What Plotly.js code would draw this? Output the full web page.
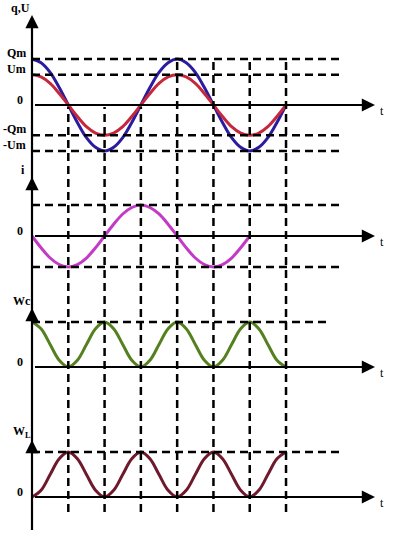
<!DOCTYPE html>
<html>
<head>
<meta charset="utf-8">
<script src="https://cdn.plot.ly/plotly-3.0.1.min.js"></script>
<style>html,body{margin:0;padding:0;background:#fff}#chart{width:396px;height:535px}</style>
</head>
<body>
<div id="chart"></div>
<script>
// time in quarter-periods (T/4 units)
const t7 = [0,0.25,0.5,0.75,1,1.25,1.5,1.75,2,2.25,2.5,2.75,3,3.25,3.5,3.75,4,4.25,4.5,4.75,5,5.25,5.5,5.75,6,6.25,6.5,6.75,7];
const t6 = [0,0.25,0.5,0.75,1,1.25,1.5,1.75,2,2.25,2.5,2.75,3,3.25,3.5,3.75,4,4.25,4.5,4.75,5,5.25,5.5,5.75,6];
// panel 1: charge q (blue) and voltage U (red)
const qVals = [1,0.92,0.71,0.38,0,-0.38,-0.71,-0.92,-1,-0.92,-0.71,-0.38,0,0.38,0.71,0.92,1,0.92,0.71,0.38,0,-0.38,-0.71,-0.92,-1,-0.92,-0.71,-0.38,0];
const uVals = [0.66,0.61,0.47,0.25,0,-0.25,-0.47,-0.61,-0.66,-0.61,-0.47,-0.25,0,0.25,0.47,0.61,0.66,0.61,0.47,0.25,0,-0.25,-0.47,-0.61,-0.66,-0.61,-0.47,-0.25,0];
// panel 2: current i
const iVals = [0,-0.38,-0.71,-0.92,-1,-0.92,-0.71,-0.38,0,0.38,0.71,0.92,1,0.92,0.71,0.38,0,-0.38,-0.71,-0.92,-1,-0.92,-0.71,-0.38,0];
// panel 3: electric energy Wc
const wcVals = [1,0.85,0.5,0.15,0,0.15,0.5,0.85,1,0.85,0.5,0.15,0,0.15,0.5,0.85,1,0.85,0.5,0.15,0,0.15,0.5,0.85,1,0.85,0.5,0.15,0];
// panel 4: magnetic energy WL
const wlVals = [0,0.15,0.5,0.85,1,0.85,0.5,0.15,0,0.15,0.5,0.85,1,0.85,0.5,0.15,0,0.15,0.5,0.85,1,0.85,0.5,0.15,0,0.15,0.5,0.85,1];

// level labels
const p1Levels = [1, 0.66, -0.66, -1];
const p1Labels = ["Qm", "Um", "-Qm", "-Um"];
const p2Levels = [1, -1];
const p3Levels = [1];
const p4Levels = [1];
const axisTitles = ["q,U", "i", "Wc", "W<sub>L</sub>"];
const vLines = [1,2,3,4,5,6,7];

const W = 396, H = 535;
const py = p => 1 - p / H;           // pixel -> paper y
const px = p => p / W;               // pixel -> paper x
const unit = 36.29, x0px = 32;
const ux = p => (p - x0px) / unit;   // pixel -> t units

function rng(zeroPx, amp) { return [(zeroPx - H) / amp, zeroPx / amp]; }

const lineW = 3;
const traces = [
  {x: t7, y: qVals, yaxis: 'y', mode: 'lines', line: {color: '#2b1b9e', width: lineW, shape: 'spline'}},
  {x: t7, y: uVals, yaxis: 'y', mode: 'lines', line: {color: '#c4283c', width: lineW, shape: 'spline'}},
  {x: t6, y: iVals, yaxis: 'y2', mode: 'lines', line: {color: '#c23ac6', width: lineW, shape: 'spline'}},
  {x: t7, y: wcVals, yaxis: 'y3', mode: 'lines', line: {color: '#55801f', width: lineW, shape: 'spline'}},
  {x: t7, y: wlVals, yaxis: 'y4', mode: 'lines', line: {color: '#6e1a2c', width: lineW, shape: 'spline'}}
];

const dash = {color: '#000', width: 2.5, dash: '8px,5px'};
const shapes = [];
const annotations = [];
const font = {family: 'Liberation Serif, Times New Roman, serif', size: 12, color: '#000'};

// vertical dashed lines
vLines.forEach(k => {
  shapes.push({type: 'line', xref: 'x', yref: 'paper', x0: k, x1: k,
    y0: py(512), y1: k <= 3 ? py(107) : py(58), line: dash});
});
// horizontal dashed lines
function hdash(levels, yref, endPx) {
  levels.forEach(v => shapes.push({type: 'line', xref: 'x', yref: yref, x0: 0, x1: ux(endPx), y0: v, y1: v, line: dash}));
}
hdash(p1Levels, 'y', 342);
hdash(p2Levels, 'y2', 342);
hdash(p3Levels, 'y3', 330);
hdash(p4Levels, 'y4', 342);

// vertical axis line
shapes.push({type: 'line', xref: 'x', yref: 'paper', x0: 0, x1: 0, y0: py(530), y1: py(20), line: {color: '#000', width: 2.2}});

// vertical arrowheads
[15, 177, 308, 440].forEach(tip => {
  annotations.push({xref: 'x', yref: 'paper', x: 0, y: py(tip), axref: 'pixel', ayref: 'pixel', ax: 0, ay: 14,
    showarrow: true, arrowhead: 2, arrowsize: 1.2, arrowwidth: 2.2, arrowcolor: '#000', text: ' '});
});
// horizontal time axes with arrows
['y', 'y2', 'y3', 'y4'].forEach(yr => {
  annotations.push({xref: 'x', yref: yr, x: ux(375), y: 0, axref: 'x', ayref: yr, ax: 0, ay: 0,
    showarrow: true, arrowhead: 2, arrowsize: 1.2, arrowwidth: 2.2, arrowcolor: '#000', text: ' '});
  annotations.push({xref: 'paper', yref: yr, x: px(378), y: 0, yshift: -6, xanchor: 'left', yanchor: 'middle',
    showarrow: false, text: 't', font: Object.assign({}, font, {size: 12})});
  annotations.push({xref: 'paper', yref: yr, x: px(25), y: 0, yshift: 5, xanchor: 'right', yanchor: 'middle',
    showarrow: false, text: '<b>0</b>', font: font});
});
// level labels panel 1
p1Levels.forEach((v, i) => {
  annotations.push({xref: 'paper', yref: 'y', x: px(28), y: v, yshift: 6, xanchor: 'right', yanchor: 'middle',
    showarrow: false, text: '<b>' + p1Labels[i] + '</b>', font: font});
});
// axis titles
const titlePos = [[9, 8], [19, 170], [11, 301], [11, 432]];
axisTitles.forEach((txt, i) => {
  annotations.push({xref: 'paper', yref: 'paper', x: px(titlePos[i][0]), y: py(titlePos[i][1]), xanchor: 'left', yanchor: 'middle',
    showarrow: false, text: '<b>' + txt + '</b>', font: font});
});

const hidden = {visible: false, fixedrange: true};
const layout = {
  width: W, height: H,
  margin: {l: 0, r: 0, t: 0, b: 0},
  paper_bgcolor: '#fff', plot_bgcolor: '#fff',
  showlegend: false,
  xaxis: Object.assign({range: [ux(0), ux(W)]}, hidden),
  yaxis: Object.assign({range: rng(105, 46)}, hidden),
  yaxis2: Object.assign({range: rng(236, 31), overlaying: 'y'}, hidden),
  yaxis3: Object.assign({range: rng(367, 45), overlaying: 'y'}, hidden),
  yaxis4: Object.assign({range: rng(497, 45), overlaying: 'y'}, hidden),
  shapes: shapes,
  annotations: annotations
};
Plotly.newPlot('chart', traces, layout, {staticPlot: true, displayModeBar: false});
</script>
</body>
</html>
